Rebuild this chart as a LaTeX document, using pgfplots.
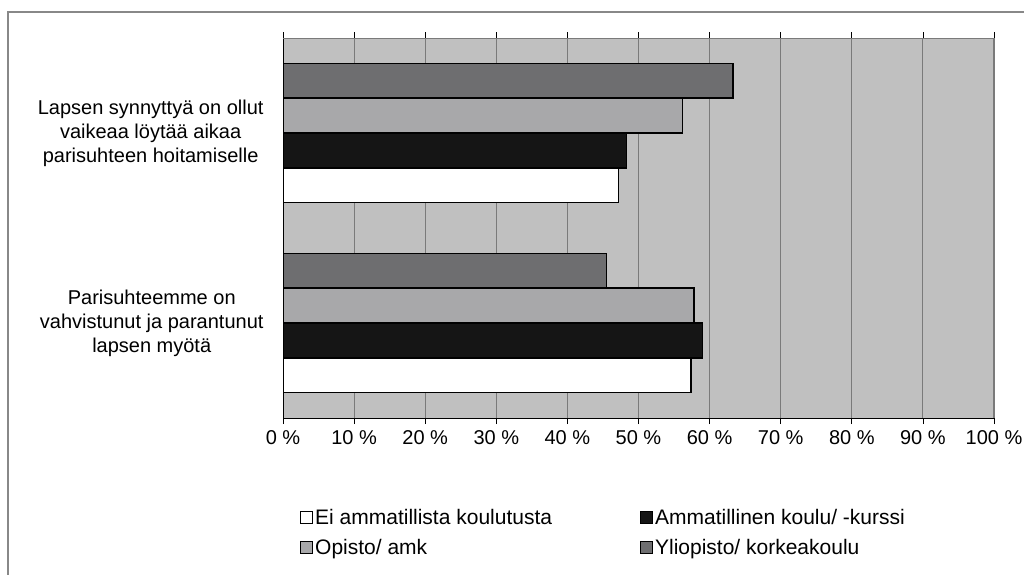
\documentclass[border=0pt]{standalone}
\usepackage{pgfplots}
\pgfplotsset{compat=1.18}
\usepackage{fontspec}
\setmainfont{Liberation Sans}

\definecolor{plotbg}{HTML}{C0C0C0}
\definecolor{gridc}{HTML}{7A7A7A}
\definecolor{framec}{HTML}{888888}
\definecolor{darkbar}{HTML}{6E6E70}
\definecolor{lightbar}{HTML}{A8A8AA}
\definecolor{blackbar}{HTML}{151515}

\newcommand{\lblfont}{\fontsize{20bp}{24bp}\selectfont}
\newcommand{\legfont}{\fontsize{21bp}{24bp}\selectfont}

\begin{document}
\begin{tikzpicture}
\useasboundingbox (0,0) rectangle (1024bp,-575bp);
\draw[framec, line width=1.5bp] (8bp,-700bp) -- (8bp,-12bp) -- (1100bp,-12bp);

\begin{axis}[
    at={(283bp,-418bp)}, anchor=south west,
    scale only axis, width=711bp, height=380bp,
    xbar, bar width=0.183,
    xmin=0, xmax=100, ymin=-0.5, ymax=1.5,
    axis background/.style={fill=plotbg},
    axis line style={draw=none},
    xtick={0,10,...,100},
    xticklabel={\pgfmathprintnumber{\tick}~\%},
    xmajorgrids, major grid style={gridc, line width=1bp},
    ytick={0,1},
    yticklabels={{Parisuhteemme on\\vahvistunut ja parantunut\\lapsen myötä},
                 {Lapsen synnyttyä on ollut\\vaikeaa löytää aikaa\\parisuhteen hoitamiselle}},
    yticklabel style={align=center, font=\lblfont, xshift=-10bp},
    minor ytick={-0.5,0.5,1.5},
    tick align=outside,
    x tick style={black, line width=0.8bp}, major tick length=6bp,
    /pgf/number format/assume math mode=true,
    xticklabel style={font=\lblfont, yshift=-3bp},
    every y tick/.style={draw=none},
    every minor y tick/.style={black, line width=0.8bp},
    minor tick length=6bp,
    legend columns=2,
    legend style={draw=none, fill=none, at={(0,-0.23)}, anchor=north west,
        xshift=14bp,
        font=\legfont, row sep=9bp,
        nodes={inner xsep=2bp},
        /tikz/every even column/.append style={column sep=86bp}},
    legend cell align=left,
    legend image code/.code={\draw[#1, line width=1bp] (0bp,-6bp) rectangle (12bp,6bp);},
    every axis plot/.append style={draw=black, line width=1.5bp},
]
\addplot[fill=white, bar shift=-0.2745] coordinates {(57.4,0) (47.2,1)};
\addplot[fill=blackbar, bar shift=-0.0915] coordinates {(59.0,0) (48.3,1)};
\addplot[fill=lightbar, bar shift=0.0915] coordinates {(57.8,0) (56.2,1)};
\addplot[fill=darkbar, bar shift=0.2745] coordinates {(45.5,0) (63.3,1)};
\legend{Ei ammatillista koulutusta, Ammatillinen koulu/ -kurssi, Opisto/ amk, Yliopisto/ korkeakoulu}
\draw[black, line width=1bp] (rel axis cs:0,1) -- (rel axis cs:0,0) -- (rel axis cs:1,0);
\draw[gridc, line width=1.5bp] (rel axis cs:0,1) -- (rel axis cs:1,1) -- (rel axis cs:1,0);
\end{axis}
\end{tikzpicture}
\end{document}
